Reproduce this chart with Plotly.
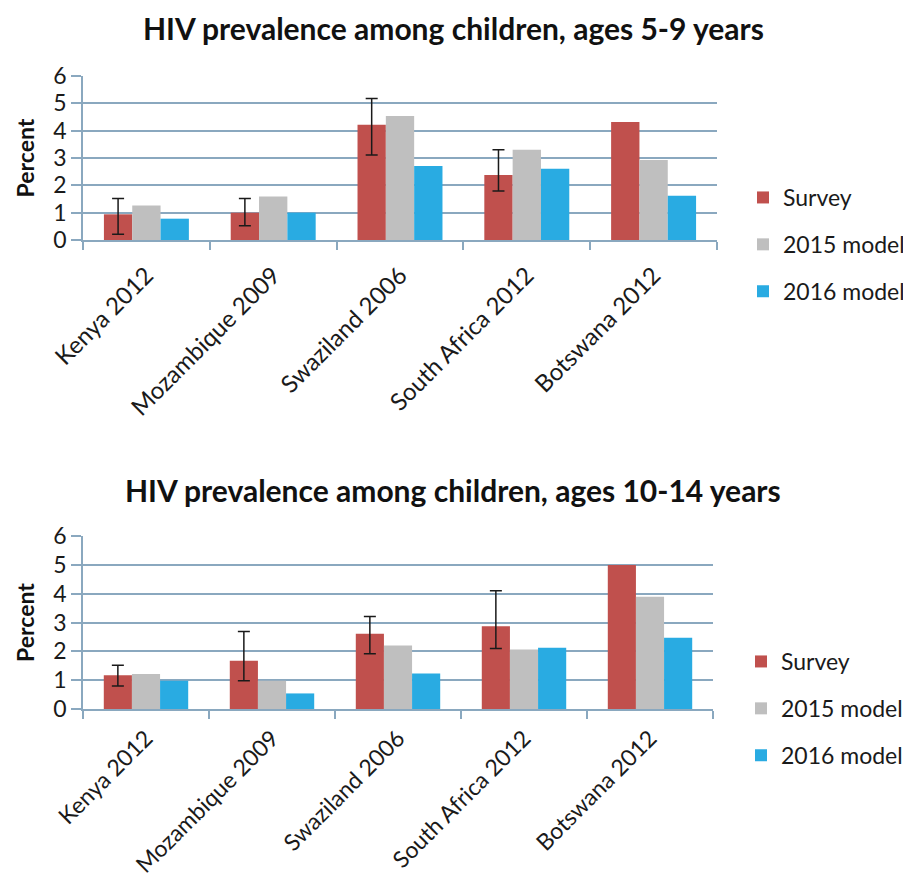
import plotly.graph_objects as go

categories = ["Kenya 2012", "Mozambique 2009", "Swaziland 2006", "South Africa 2012", "Botswana 2012"]

# Ages 5-9 (None = no confidence interval shown)
survey_5_9 = [0.94, 1.0, 4.22, 2.38, 4.32]
survey_5_9_hi = [1.52, 1.52, 5.18, 3.30, None]
survey_5_9_lo = [0.21, 0.52, 3.11, 1.79, None]
model2015_5_9 = [1.26, 1.59, 4.54, 3.30, 2.93]
model2016_5_9 = [0.78, 1.0, 2.71, 2.61, 1.62]

# Ages 10-14
survey_10_14 = [1.17, 1.67, 2.61, 2.87, 4.99]
survey_10_14_hi = [1.52, 2.69, 3.21, 4.10, None]
survey_10_14_lo = [0.80, 0.98, 1.92, 2.10, None]
model2015_10_14 = [1.21, 0.98, 2.20, 2.06, 3.89]
model2016_10_14 = [0.98, 0.54, 1.23, 2.12, 2.47]

series_names = ["Survey", "2015 model", "2016 model"]
colors = ["#c0504d", "#bfbfbf", "#29abe2"]

FONT = "Lato"
GRID = "#8aa8bf"
OFF = 8  # page body margin
W, H = 911 - OFF, 886 - OFF


def px(x):
    return (x - OFF) / W


def py(y):
    return 1 - (y - OFF) / H


def err(vals, hi, lo):
    # points without an interval are left out at the end of the arrays,
    # so plotly draws no error bar for them
    up, dn = [], []
    for v, h, l in zip(vals, hi, lo):
        if h is None or l is None:
            break
        up.append(h - v)
        dn.append(v - l)
    return dict(type="data", symmetric=False, array=up, arrayminus=dn,
                color="#1a1a1a", thickness=1.5, width=6)


fig = go.Figure()

panels = [
    ("x", "y", "legend", survey_5_9, survey_5_9_hi, survey_5_9_lo, model2015_5_9, model2016_5_9),
    ("x2", "y2", "legend2", survey_10_14, survey_10_14_hi, survey_10_14_lo, model2015_10_14, model2016_10_14),
]

for xa, ya, lg, s, hi, lo, m15, m16 in panels:
    data = [s, m15, m16]
    for i, (name, col, vals) in enumerate(zip(series_names, colors, data)):
        fig.add_trace(go.Bar(
            x=categories, y=vals, name=name, marker=dict(color=col, line=dict(width=0)),
            xaxis=xa, yaxis=ya, legend=lg, legendgroup=lg + name,
            error_y=err(vals, hi, lo) if i == 0 else None,
        ))

xcommon = dict(type="category", showgrid=False, showline=True, linecolor=GRID, linewidth=1.5,
               ticks="outside", tickson="boundaries", ticklen=8, tickcolor=GRID, tickwidth=1.5,
               tickangle=-45, automargin=False)
ycommon = dict(range=[0, 6], dtick=1, showgrid=True, gridcolor=GRID, gridwidth=1.5,
               showline=True, linecolor=GRID, linewidth=1.5, ticks="outside", ticklen=10,
               tickcolor=GRID, tickwidth=1.5, zeroline=False,
               tickfont=dict(family=FONT, size=23, color="#1a1a1a"),
               title=dict(text="<b>Percent</b>", font=dict(family=FONT, size=23, color="#111111"), standoff=12),
               automargin=False, fixedrange=True)

legcommon = dict(font=dict(family=FONT, size=23, color="#1a1a1a"), tracegroupgap=14,
                 bgcolor="rgba(0,0,0,0)", xanchor="left", yanchor="top", itemwidth=30)

fig.update_layout(
    width=W, height=H,
    margin=dict(l=0, r=0, t=0, b=0, autoexpand=False),
    paper_bgcolor="white", plot_bgcolor="white",
    barmode="group", bargap=0.33, bargroupgap=0,
    xaxis=dict(**xcommon, anchor="y", domain=[px(83), px(717)], ticklabelstandoff=10,
               tickfont=dict(family=FONT, size=24, color="#1a1a1a")),
    yaxis=dict(**ycommon, domain=[py(240), py(76)], anchor="x"),
    xaxis2=dict(**xcommon, anchor="y2", domain=[px(83), px(713)], ticklabelstandoff=5,
                tickfont=dict(family=FONT, size=23, color="#1a1a1a")),
    yaxis2=dict(**ycommon, domain=[py(709), py(536)], anchor="x2"),
    legend=dict(**legcommon, x=px(743), y=py(176)),
    legend2=dict(**legcommon, x=px(741), y=py(640)),
    annotations=[
        dict(text="<b>HIV prevalence among children, ages 5-9 years</b>", x=px(453), y=py(28),
             xref="paper", yref="paper", showarrow=False, xanchor="center", yanchor="middle",
             font=dict(family=FONT, size=30, color="#111111")),
        dict(text="<b>HIV prevalence among children, ages 10-14 years</b>", x=px(453), y=py(490),
             xref="paper", yref="paper", showarrow=False, xanchor="center", yanchor="middle",
             font=dict(family=FONT, size=30, color="#111111")),
    ],
    showlegend=True,
)

fig.write_html("out.html")
